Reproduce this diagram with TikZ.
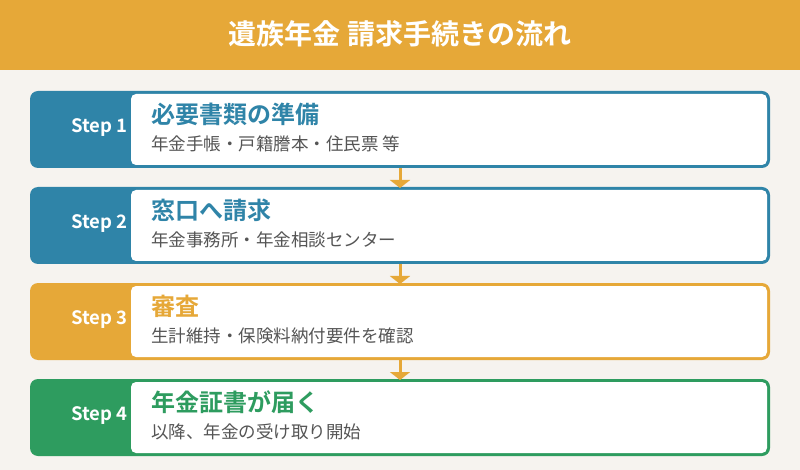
\documentclass[tikz,border=0pt]{standalone}
\usepackage{fontspec}
\setmainfont{Noto Sans CJK JP}[BoldFont={Noto Sans CJK JP Bold}]
\usetikzlibrary{arrows.meta}
\definecolor{hdr}{HTML}{E6A838}
\definecolor{cblue}{HTML}{2F84A8}
\definecolor{corange}{HTML}{E6A838}
\definecolor{cgreen}{HTML}{2E9C5F}
\definecolor{bg}{HTML}{F6F3EF}
\definecolor{subc}{HTML}{555555}
\tikzset{
  outerbox/.style={rounded corners=8pt, minimum width=740pt, minimum height=77pt, inner sep=0pt, outer sep=0pt},
  innerbox/.style={fill=white, rounded corners=5pt, minimum width=636pt, minimum height=71pt, inner sep=0pt, outer sep=0pt},
  steplbl/.style={anchor=east, text=white, font=\fontsize{18.5}{20}\selectfont\bfseries, inner sep=0pt},
  ttl/.style={anchor=west, font=\fontsize{24}{28}\selectfont\bfseries, inner sep=0pt},
  sub/.style={anchor=west, text=subc, font=\fontsize{17.5}{20}\selectfont, inner sep=0pt},
  arr/.style={draw=corange, line width=3pt, -{Triangle[width=20pt,length=8pt]}, shorten >=-1pt}
}
\begin{document}
\begin{tikzpicture}[x=1pt,y=-1pt]
\fill[bg] (0,0) rectangle (800,470);
\node[fill=hdr, minimum width=800pt, minimum height=70pt, inner sep=0pt, outer sep=0pt, anchor=north west] (hdrbox) at (0,0) {};
\node[text=white, font=\fontsize{28}{32}\selectfont\bfseries] (htitle) at (400,33.5) {遺族年金 請求手続きの流れ};
% step 1
\node[outerbox, fill=cblue] (b1) at (400,129.5) {};
\node[innerbox] (w1) at (449,129.5) {};
\node[steplbl] (s1) at (127.5,127.5) {Step 1};
\node[ttl, text=cblue] (t1) at (151,114.5) {必要書類の準備};
\node[sub] (d1) at (151,143.5) {年金手帳・戸籍謄本・住民票 等};
% step 2
\node[outerbox, fill=cblue] (b2) at (400,225.5) {};
\node[innerbox] (w2) at (449,225.5) {};
\node[steplbl] (s2) at (127.5,223.5) {Step 2};
\node[ttl, text=cblue] (t2) at (151,210.5) {窓口へ請求};
\node[sub] (d2) at (151,239.5) {年金事務所・年金相談センター};
% step 3
\node[outerbox, fill=corange] (b3) at (400,321.5) {};
\node[innerbox] (w3) at (449,321.5) {};
\node[steplbl] (s3) at (127.5,319.5) {Step 3};
\node[ttl, text=corange] (t3) at (151,306.5) {審査};
\node[sub] (d3) at (151,335.5) {生計維持・保険料納付要件を確認};
% step 4
\node[outerbox, fill=cgreen] (b4) at (400,417.5) {};
\node[innerbox] (w4) at (449,417.5) {};
\node[steplbl] (s4) at (127.5,415.5) {Step 4};
\node[ttl, text=cgreen] (t4) at (151,402.5) {年金証書が届く};
\node[sub] (d4) at (151,431.5) {以降、年金の受け取り開始};
% arrows
\draw[arr] (b1.south) -- (b2.north);
\draw[arr] (b2.south) -- (b3.north);
\draw[arr] (b3.south) -- (b4.north);
\end{tikzpicture}
\end{document}
